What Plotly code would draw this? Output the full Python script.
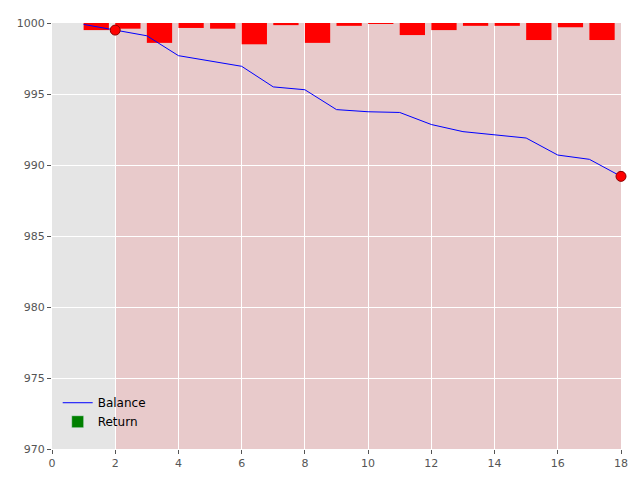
import plotly.graph_objects as go

bar_x = list(range(1, 18))
bar_ret = [-0.5, -0.4, -1.4, -0.35, -0.4, -1.5, -0.15, -1.4, -0.2, -0.07, -0.85, -0.5, -0.2, -0.2, -1.2, -0.3, -1.2]
bal_x = list(range(1, 19))
bal_y = [999.9, 999.5, 999.1, 997.7, 997.35, 996.95, 995.5, 995.3, 993.9, 993.75, 993.7,
         992.85, 992.35, 992.1, 991.9, 990.7, 990.4, 989.2]
mark_x = [2, 18]
mark_y = [999.5, 989.2]

fig = go.Figure()
fig.add_trace(go.Bar(x=[x + 0.4 for x in bar_x], y=bar_ret, base=1000, width=0.8,
                     marker=dict(color="red", line_width=0), showlegend=False))
fig.add_trace(go.Scatter(x=bal_x, y=bal_y, mode="lines", line=dict(color="blue", width=1), name="Balance"))
fig.add_trace(go.Bar(x=[None], y=[None], marker_color="green", name="Return"))
fig.add_trace(go.Scatter(x=mark_x, y=mark_y, mode="markers", showlegend=False, cliponaxis=False,
                         marker=dict(color="red", size=10, line=dict(color="#8B0000", width=1))))
fig.add_shape(type="rect", x0=2, x1=18, y0=970, y1=1000, fillcolor="#E8CACB",
              line_width=0, layer="below")

ax = dict(showgrid=True, gridcolor="white", gridwidth=1, zeroline=False, ticks="outside",
          tickcolor="#555", ticklen=4, tickfont=dict(size=11, color="#555"), showline=False)
fig.update_layout(
    width=640, height=480, paper_bgcolor="white", plot_bgcolor="#E5E5E5",
    margin=dict(l=42, r=27, t=9, b=39), barmode="overlay",
    font=dict(family="DejaVu Sans"),
    xaxis=dict(range=[0, 18], dtick=2, **ax),
    yaxis=dict(range=[970, 1000], dtick=5, **ax),
    legend=dict(x=0.01, y=0.03, xanchor="left", yanchor="bottom", bgcolor="rgba(0,0,0,0)",
                font=dict(size=12, color="black")),
)
fig.write_html("out.html")
